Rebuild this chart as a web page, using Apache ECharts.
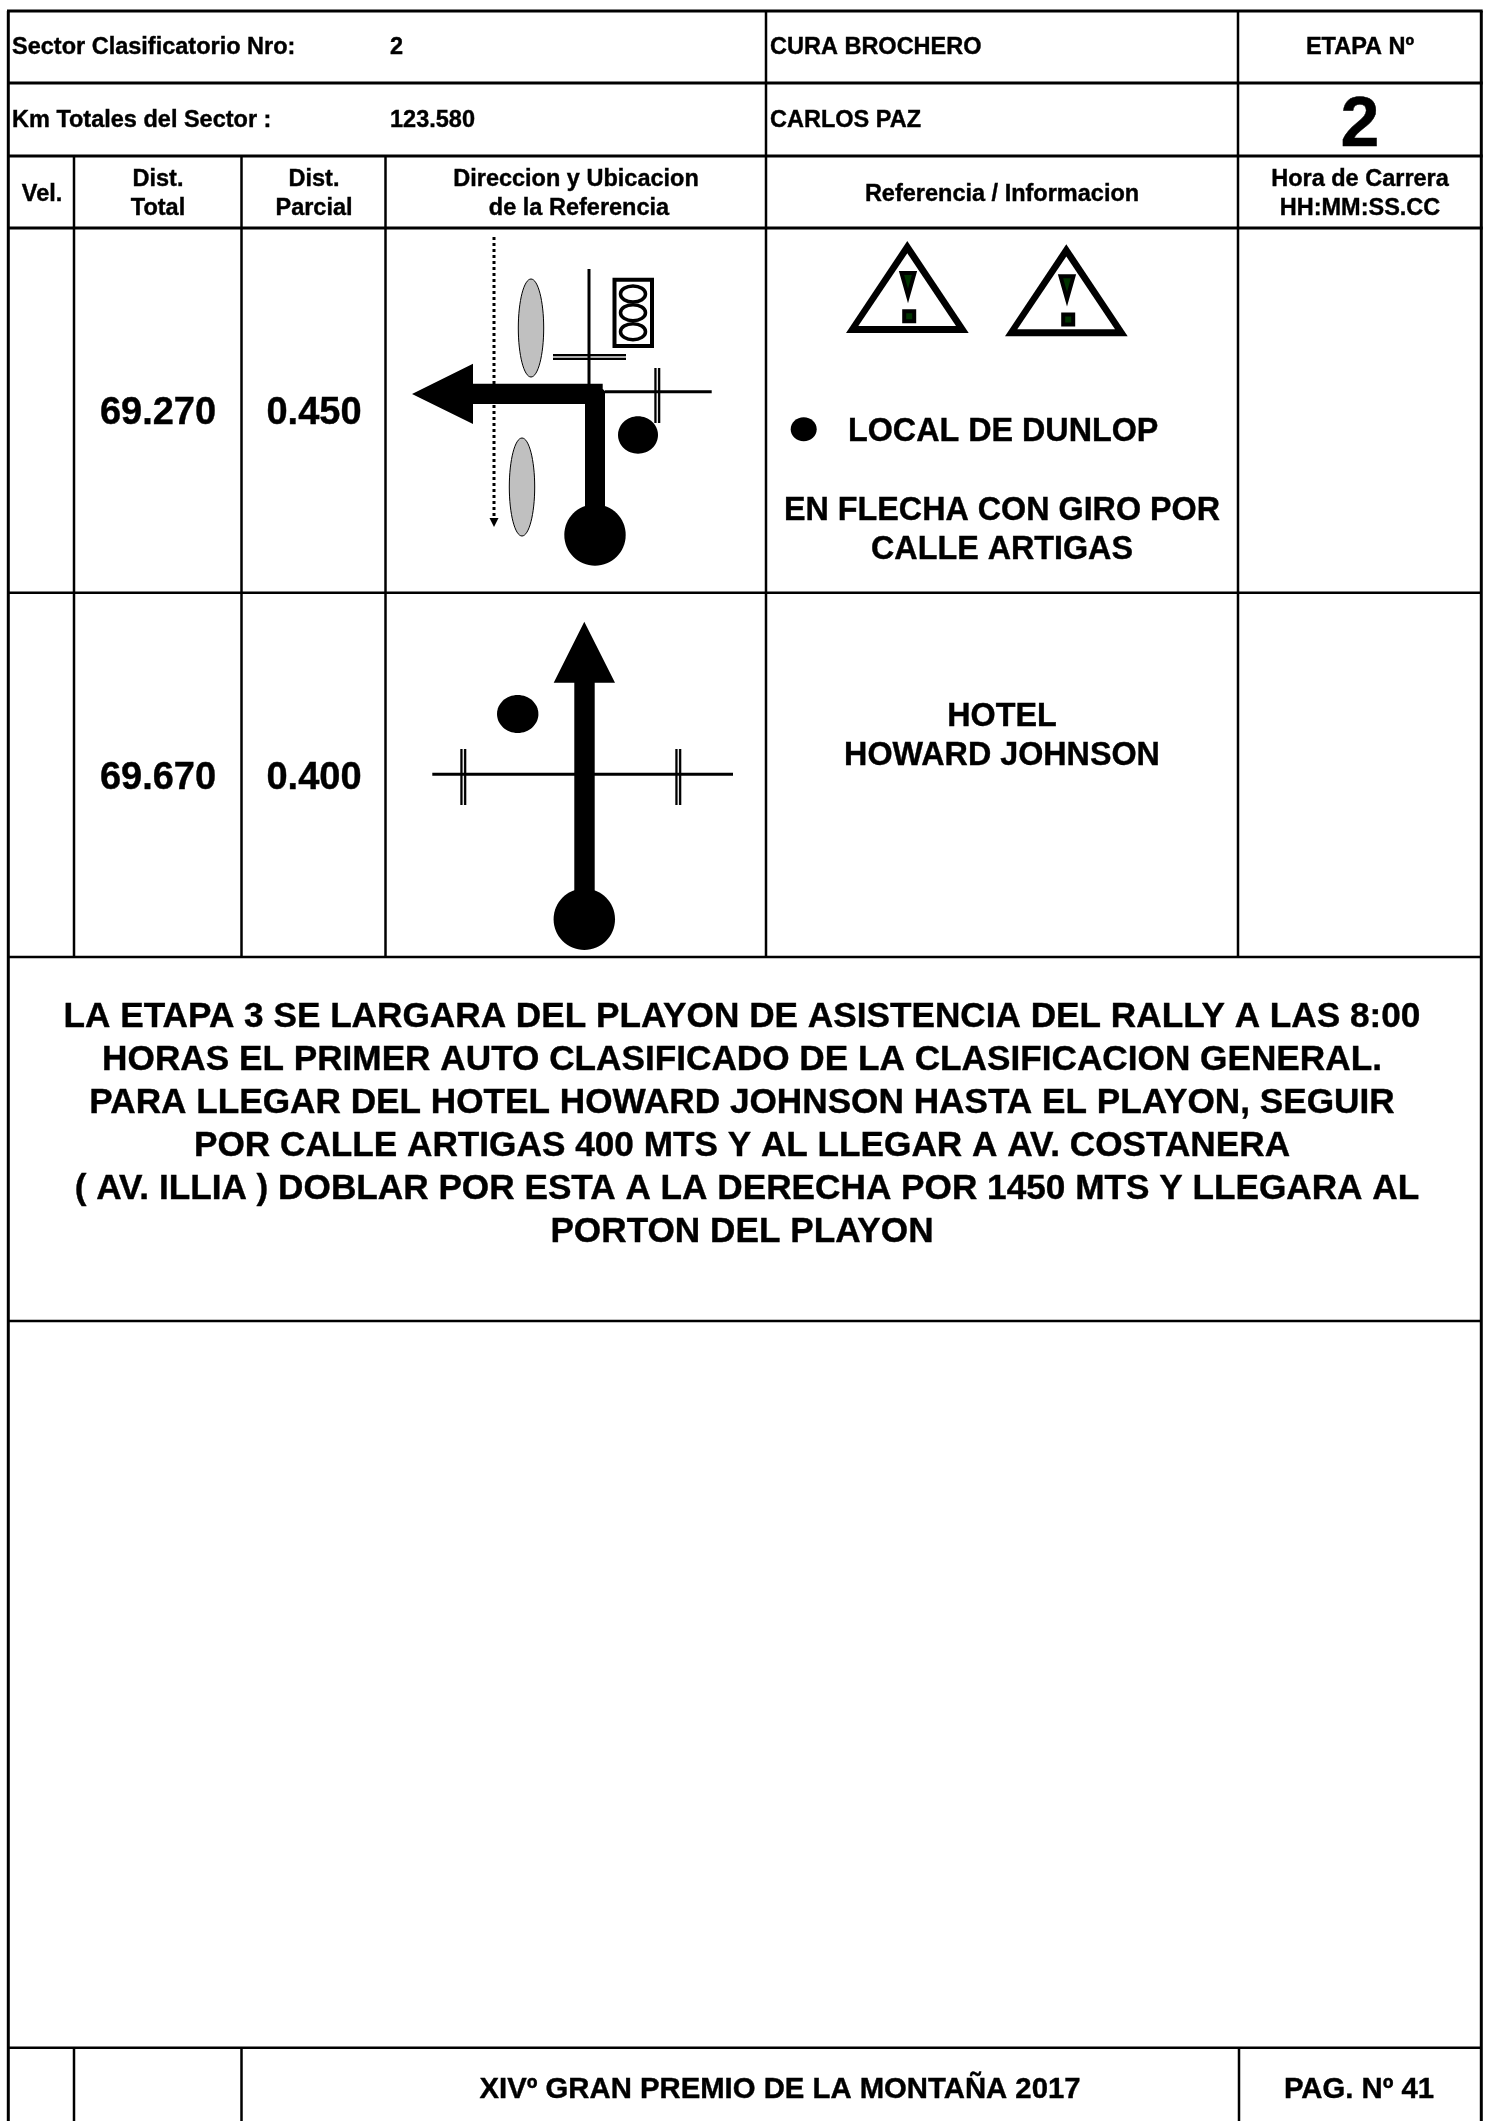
<!DOCTYPE html>
<html>
<head>
<meta charset="utf-8">
<style>
  html, body { margin: 0; padding: 0; background: #fff; }
  #Chart { width: 1488px; height: 2121px; }
</style>
<script src="https://cdn.jsdelivr.net/npm/echarts@6/dist/echarts.min.js"></script>
</head>
<body>
<div id="Chart"></div>
<script>
// [x1, y1, x2, y2] page units of the hidden axes
const heavyRules = [
  [7, 11, 1482.7, 11], [7, 83, 1482.7, 83], [7, 156, 1482.7, 156], [7, 228, 1482.7, 228],
  [8.3, 11, 8.3, 2121], [1481.3, 11, 1481.3, 2121]
]
const lightRules = [
  [766, 11, 766, 957], [1238, 11, 1238, 957],
  [74, 156, 74, 957], [241.5, 156, 241.5, 957], [385.5, 156, 385.5, 957],
  [74, 2047.7, 74, 2121], [241.5, 2047.7, 241.5, 2121], [1239, 2047.7, 1239, 2121],
  [8, 592.7, 1481, 592.7], [8, 957, 1481, 957], [8, 1321, 1481, 1321], [8, 2047.7, 1481, 2047.7]
]
const streetLines = [
  [589, 269, 589, 385], [605, 391.7, 711.7, 391.7], [432.3, 774.3, 733, 774.3]
]
const doubleLines = [
  [553, 357, 626, 357], [657.3, 368, 657.3, 423], [463.3, 749, 463.3, 805], [678.3, 749, 678.3, 805]
]
const dottedPath = [[494, 237, 494, 518]]
const arrowPolys = [
  [[412, 394], [473, 363.7], [473, 383.7], [602.7, 383.7], [602.7, 389], [605, 391], [605, 535], [585, 535], [585, 404], [473, 404], [473, 424]],
  [[584.3, 621.7], [615, 682.7], [594.7, 682.7], [594.7, 900], [574.3, 900], [574.3, 682.7], [553.7, 682.7]],
  [[489.5, 518], [498.5, 518], [494, 527]]
]
const warningOuter = [
  [[907.3, 241], [968.7, 333], [846, 333]],
  [[1066.3, 244.3], [1127.7, 336.3], [1005, 336.3]]
]
const warningInner = [
  [[907.3, 253.3], [956, 326], [858.3, 326]],
  [[1066.3, 256.6], [1115, 329.3], [1017.3, 329.3]]
]
const warningMarks = [
  [[901.5, 273], [914.5, 273], [908, 296]],
  [[904.2, 311.3], [914.2, 311.3], [914.2, 321.3], [904.2, 321.3]],
  [[1060.5, 276.2], [1073.5, 276.2], [1067, 299.2]],
  [[1063.2, 314.5], [1073.2, 314.5], [1073.2, 324.5], [1063.2, 324.5]]
]
// [cx, cy, rx, ry]
const islands = [[531, 328, 12.7, 49], [522, 487, 12.7, 49]]
const signalRect = [[[614.5, 279.7], [652, 279.7], [652, 346], [614.5, 346]]]
const signalLights = [[633, 294, 12.5, 8], [633, 312.7, 12.5, 8], [633, 331.7, 12.5, 8]]
const solidBlobs = [
  [595, 535, 30.7, 30.7], [584.3, 919.3, 30.7, 30.7],
  [638, 435, 20, 18.7], [517.7, 714, 20.7, 19], [803.7, 429.3, 13, 12]
]
// [text, x, y]
const sectorLabels = [
  ["Sector Clasificatorio Nro:", 12, 46], ["2", 390, 46],
  ["Km Totales del Sector :", 12, 119], ["123.580", 390, 119],
  ["CURA BROCHERO", 770, 46], ["CARLOS PAZ", 770, 119]
]
const headerLabels = [
  ["ETAPA Nº", 1360, 46], ["Vel.", 42, 193],
  ["Dist.", 158, 178], ["Total", 158, 207],
  ["Dist.", 314, 178], ["Parcial", 314, 207],
  ["Direccion y Ubicacion", 576, 178], ["de la Referencia", 579, 207],
  ["Referencia / Informacion", 1002, 193],
  ["Hora de Carrera", 1360, 178], ["HH:MM:SS.CC", 1360, 207]
]
const stageNumber = [["2", 1360, 122]]
const distances = [
  ["69.270", 158, 411], ["0.450", 314, 411],
  ["69.670", 158, 776], ["0.400", 314, 776]
]
const referenceLeft = [["LOCAL DE DUNLOP", 848, 430]]
const referenceCenter = [
  ["EN FLECHA CON GIRO POR", 1002, 509], ["CALLE ARTIGAS", 1002, 548],
  ["HOTEL", 1002, 715], ["HOWARD JOHNSON", 1002, 754]
]
const noteLines = [
  ["LA ETAPA 3 SE LARGARA DEL PLAYON DE ASISTENCIA DEL RALLY A LAS 8:00", 742, 1015],
  ["HORAS EL PRIMER AUTO CLASIFICADO DE LA CLASIFICACION GENERAL.", 742, 1058],
  ["PARA LLEGAR DEL HOTEL HOWARD JOHNSON HASTA EL PLAYON, SEGUIR", 742, 1101],
  ["POR CALLE ARTIGAS 400 MTS Y AL LLEGAR A AV. COSTANERA", 742, 1144],
  ["( AV. ILLIA ) DOBLAR POR ESTA A LA DERECHA POR 1450 MTS Y LLEGARA AL", 747, 1187],
  ["PORTON DEL PLAYON", 742, 1230]
]
const footerLabels = [["XIVº GRAN PREMIO DE LA MONTAÑA 2017", 780, 2088], ["PAG. Nº 41", 1359, 2088]]

const chart = echarts.init(document.getElementById("Chart"), null, { renderer: "canvas" })

// all the shapes go through the same hidden axes
const custom = (rows, anchor, draw) => ({
  type: "custom",
  silent: true,
  clip: false,
  encode: { x: 0, y: 1 },
  data: rows.map(anchor),
  renderItem: (params, api) => draw(rows[params.dataIndex], api)
})
const lines = (rows, width, color, dash) => custom(rows, r => [r[0], r[1]], (r, api) => {
  const a = api.coord([r[0], r[1]])
  const b = api.coord([r[2], r[3]])
  return {
    type: "line",
    shape: { x1: a[0], y1: a[1], x2: b[0], y2: b[1] },
    style: { stroke: color, lineWidth: width, lineDash: dash || null, fill: null }
  }
})
const polys = (rows, fill, stroke, width) => custom(rows, r => r[0], (r, api) => ({
  type: "polygon",
  shape: { points: r.map(p => api.coord(p)) },
  style: { fill: fill, stroke: stroke || null, lineWidth: width || 0 }
}))
const ellipses = (rows, fill, stroke, width) => custom(rows, r => [r[0], r[1]], (r, api) => {
  const c = api.coord([r[0], r[1]])
  const e = api.coord([r[0] + r[2], r[1] + r[3]])
  return {
    type: "ellipse",
    shape: { cx: c[0], cy: c[1], rx: e[0] - c[0], ry: e[1] - c[1] },
    style: { fill: fill, stroke: stroke || null, lineWidth: width || 0 }
  }
})
const texts = (rows, size, align) => custom(rows, r => [r[1], r[2]], (r, api) => {
  const c = api.coord([r[1], r[2]])
  return {
    type: "text",
    x: c[0],
    // the line box sits above the capitals, push it down a bit
    y: c[1] + size * 0.07,
    style: {
      text: r[0],
      fill: "#000",
      stroke: "#000",
      lineWidth: 0.4,
      font: "bold " + size + "px 'Liberation Sans'",
      textAlign: align || "center",
      textVerticalAlign: "middle"
    }
  }
})

chart.setOption({
  animation: false,
  backgroundColor: "#fff",
  grid: { left: 0, right: 0, top: 0, bottom: 0 },
  xAxis: { type: "value", min: 0, max: 1488, show: false },
  yAxis: { type: "value", min: 0, max: 2121, inverse: true, show: false },
  series: [
    lines(lightRules, 2.5, "#000"),
    lines(heavyRules, 3, "#000"),
    lines(dottedPath, 3, "#000", [3, 3]),
    ellipses(islands, "#c0c0c0", "#000", 1),
    lines(doubleLines, 6, "#000"),
    lines(doubleLines, 1.5, "#e8e8e8"),
    lines(streetLines, 3, "#000"),
    polys(signalRect, "#fff", "#000", 4),
    ellipses(signalLights, "#fff", "#000", 3.5),
    polys(arrowPolys, "#000"),
    ellipses(solidBlobs, "#000"),
    polys(warningOuter, "#000"),
    polys(warningInner, "#fff"),
    polys(warningMarks, "#003300", "#000", 4),
    texts(sectorLabels, 23.5, "left"),
    texts(headerLabels, 23.5),
    texts(stageNumber, 70),
    texts(distances, 38),
    texts(referenceLeft, 32.3, "left"),
    texts(referenceCenter, 32.3),
    texts(noteLines, 35.2),
    texts(footerLabels, 29.3)
  ]
})
</script>
</body>
</html>
